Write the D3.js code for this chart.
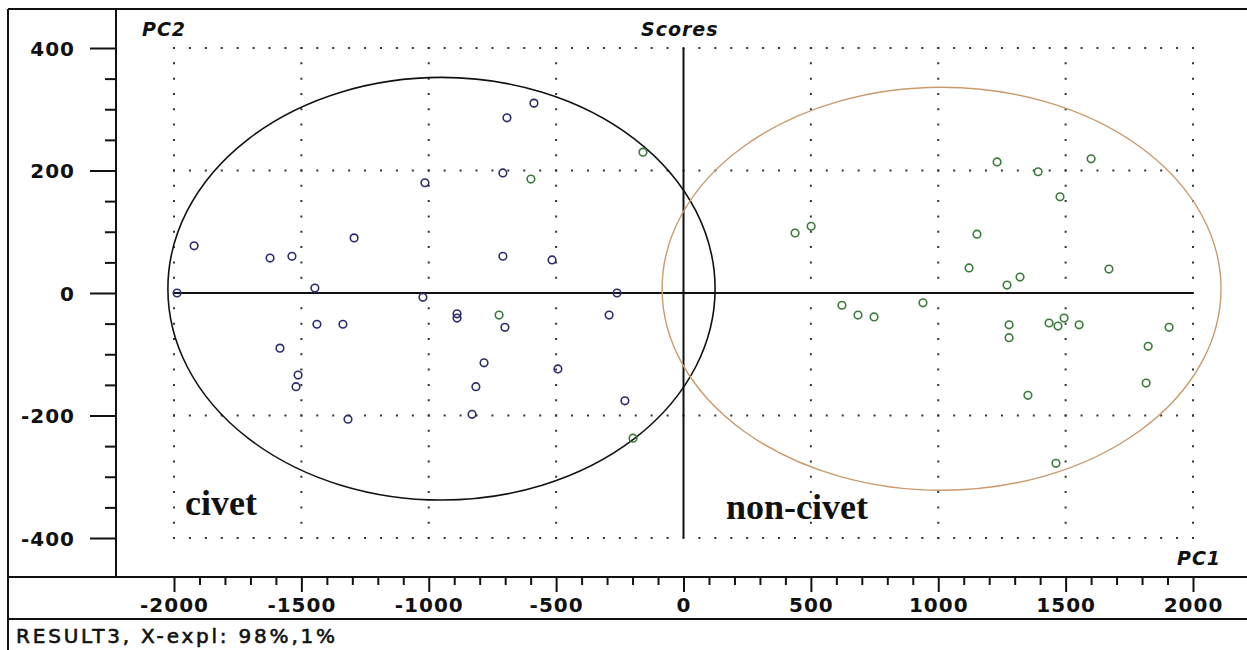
<!DOCTYPE html>
<meta charset="utf-8">
<script src="https://d3js.org/d3.v7.min.js"></script>
<style>
  body { margin: 0; background: #fff; }
  .tick text { font-family: "DejaVu Sans", sans-serif; font-weight: bold; font-size: 20px; letter-spacing: 1px; fill: #111; }
</style>
<div id="my_chart"><svg></svg></div>
<script>
// PCA scores, PC1 vs PC2
var civetPC1 = [-1921, -1988, -1623, -1537, -1293, -1447, -1439, -1337, -1584, -1513, -1521, -1317,
                -1015, -1023, -889, -889, -709, -516, -701, -783, -815, -830, -493, -261, -292, -230,
                -587, -693, -709];
var civetPC2 = [77, 0, 57, 60, 90, 8, -51, -51, -90, -134, -153, -206,
                180, -7, -34, -41, 60, 54, -56, -114, -153, -198, -124, 0, -36, -176,
                310, 286, 196];
var nonCivetPC1 = [-724, -198, -159, -599, 438, 501, 1152, 1121, 1270, 1321, 1670, 622, 685, 748, 940,
                   1278, 1278, 1435, 1470, 1494, 1553, 1906, 1824, 1816, 1352, 1462, 1231, 1392, 1600, 1478];
var nonCivetPC2 = [-36, -237, 230, 186, 98, 109, 96, 41, 13, 26, 39, -20, -36, -39, -16,
                   -52, -73, -49, -54, -41, -52, -56, -87, -147, -167, -278, 214, 198, 219, 157];

// group ellipses: centre PC1, centre PC2, radius PC1, radius PC2
var ellipseNames = ["civet", "non-civet"];
var ellipseCx = [-950, 1013];
var ellipseCy = [7, 7];
var ellipseRx = [1074, 1097];
var ellipseRy = [345, 329];

var xTicks = [-2000, -1500, -1000, -500, 0, 500, 1000, 1500, 2000];
var yTicks = [-400, -200, 0, 200, 400];

var W = 1247, H = 650;
var svg = d3.select("#my_chart").select("svg")
    .attr("width", W)
    .attr("height", H);

var x = d3.scaleLinear().domain([-2000, 2000]).range([174, 1193]);
var y = d3.scaleLinear().domain([-400, 400]).range([538, 48]);

// plain integer labels with ascii minus
var fmt = function(d) { return String(d); };

// frame
var frame = svg.append("g").attr("stroke", "#111").attr("stroke-width", 2);
frame.append("line").attr("x1", 8).attr("x2", W).attr("y1", 9).attr("y2", 9);
frame.append("line").attr("x1", 8).attr("x2", 8).attr("y1", 9).attr("y2", H);
frame.append("line").attr("x1", 8).attr("x2", W).attr("y1", 577).attr("y2", 577);
frame.append("line").attr("x1", 8).attr("x2", W).attr("y1", 619).attr("y2", 619);
frame.append("line").attr("x1", 116).attr("x2", 116).attr("y1", 9).attr("y2", 577);

// dotted grid
var gx = Math.abs(x(62.5) - x(0)), gy = Math.abs(y(25) - y(0));
svg.append("g").selectAll("line").data(xTicks.filter(function(d) { return d != 0; }))
    .enter().append("line")
    .attr("x1", function(d) { return x(d); })
    .attr("x2", function(d) { return x(d); })
    .attr("y1", y(400) - 1).attr("y2", y(-400) + 1)
    .attr("stroke", "#333").attr("stroke-width", 2)
    .attr("stroke-dasharray", "2," + (gy - 2));
svg.append("g").selectAll("line").data(yTicks.filter(function(d) { return d != 0; }))
    .enter().append("line")
    .attr("x1", x(-2000) - 1).attr("x2", x(2000) + 1)
    .attr("y1", function(d) { return y(d); })
    .attr("y2", function(d) { return y(d); })
    .attr("stroke", "#333").attr("stroke-width", 2)
    .attr("stroke-dasharray", "2," + (gx - 2));

// zero lines
svg.append("line").attr("x1", x(-2000)).attr("x2", x(2000)).attr("y1", y(0)).attr("y2", y(0))
    .attr("stroke", "#111").attr("stroke-width", 2);
svg.append("line").attr("x1", x(0)).attr("x2", x(0)).attr("y1", y(400)).attr("y2", y(-400))
    .attr("stroke", "#111").attr("stroke-width", 2);

// y axis
var yMinor = d3.range(-400, 401, 50).filter(function(d) { return d % 200 != 0; });
svg.append("g").attr("transform", "translate(116,0)")
    .call(d3.axisLeft(y).tickValues(yMinor).tickSize(11).tickFormat(""))
    .call(function(g) { g.select(".domain").remove(); g.selectAll("line").attr("stroke", "#111").attr("stroke-width", 2); });
svg.append("g").attr("transform", "translate(116,0)")
    .call(d3.axisLeft(y).tickValues(yTicks).tickSize(26).tickPadding(15).tickFormat(fmt))
    .call(function(g) {
        g.select(".domain").remove();
        g.selectAll("line").attr("stroke", "#111").attr("stroke-width", 2);
        g.selectAll("text").attr("dy", "0.37em");
    });

// x axis
var xMinor = d3.range(-2000, 2001, 100).filter(function(d) { return d % 500 != 0; });
svg.append("g").attr("transform", "translate(0,577)")
    .call(d3.axisBottom(x).tickValues(xMinor).tickSize(8).tickFormat(""))
    .call(function(g) { g.select(".domain").remove(); g.selectAll("line").attr("stroke", "#111").attr("stroke-width", 2); });
svg.append("g").attr("transform", "translate(0,577)")
    .call(d3.axisBottom(x).tickValues(xTicks).tickSize(15).tickPadding(6).tickFormat(fmt))
    .call(function(g) {
        g.select(".domain").remove();
        g.selectAll("line").attr("stroke", "#111").attr("stroke-width", 2);
    });

// ellipses
var ellColors = ["#111", "#c99a6c"];
svg.append("g").selectAll("ellipse").data(ellipseNames)
    .enter().append("ellipse")
    .attr("cx", function(d, i) { return x(ellipseCx[i]); })
    .attr("cy", function(d, i) { return y(ellipseCy[i]); })
    .attr("rx", function(d, i) { return x(ellipseRx[i]) - x(0); })
    .attr("ry", function(d, i) { return y(0) - y(ellipseRy[i]); })
    .attr("fill", "none")
    .attr("stroke", function(d, i) { return ellColors[i]; })
    .attr("stroke-width", function(d, i) { return i == 0 ? 1.6 : 1.4; });

// score points
function drawPoints(px, py, color) {
    svg.append("g").selectAll("circle").data(px)
        .enter().append("circle")
        .attr("cx", function(d) { return x(d); })
        .attr("cy", function(d, i) { return y(py[i]); })
        .attr("r", 3.8)
        .attr("fill", "none")
        .attr("stroke", color)
        .attr("stroke-width", 1.6);
}
drawPoints(civetPC1, civetPC2, "#2b2b70");
drawPoints(nonCivetPC1, nonCivetPC2, "#3a7a3a");

// group labels
svg.append("text").attr("x", 185).attr("y", 515)
    .style("font-family", "'Liberation Serif', serif").style("font-weight", "bold").style("font-size", "36px")
    .attr("fill", "#111").text("civet");
svg.append("text").attr("x", 726).attr("y", 519)
    .style("font-family", "'Liberation Serif', serif").style("font-weight", "bold").style("font-size", "36px")
    .attr("fill", "#111").text("non-civet");

// titles
function italicLabel(tx, ty, s) {
    svg.append("text").attr("x", tx).attr("y", ty)
        .style("font-family", "'DejaVu Sans', sans-serif").style("font-weight", "bold")
        .style("font-style", "italic").style("font-size", "19px").style("letter-spacing", "1px")
        .attr("fill", "#111").text(s);
}
italicLabel(142, 36, "PC2");
italicLabel(641, 36, "Scores");
italicLabel(1177, 565, "PC1");

svg.append("text").attr("x", 16).attr("y", 643)
    .style("font-family", "'DejaVu Sans', sans-serif").style("font-size", "20px")
    .style("letter-spacing", "2.8px").attr("fill", "#111")
    .attr("stroke", "#111").attr("stroke-width", 0.6)
    .text("RESULT3, X-expl: 98%,1%");
</script>
